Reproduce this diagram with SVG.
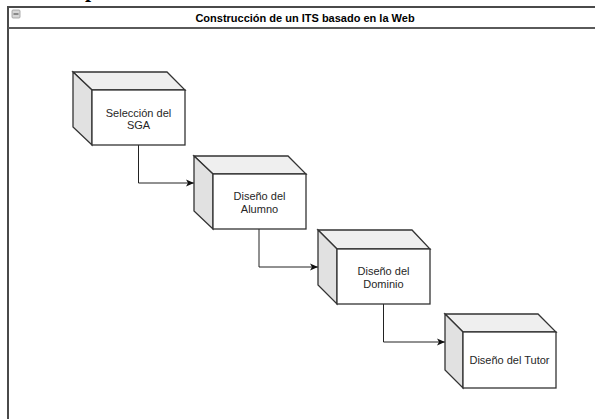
<svg xmlns="http://www.w3.org/2000/svg" width="595" height="419" viewBox="0 0 595 419">
<defs>
<style>
.face{fill:#ffffff;stroke:#333333;stroke-width:1.3}
.top{fill:#efefef;stroke:#333333;stroke-width:1.3}
.side{fill:#e1e1e1;stroke:#333333;stroke-width:1.3}
.lbl{font-family:"Liberation Sans",Arial,sans-serif;font-size:11px;fill:#262626;text-anchor:middle}
.conn{fill:none;stroke:#222222;stroke-width:1}
</style>
<marker id="arr" markerWidth="10" markerHeight="10" refX="9" refY="5" orient="auto" markerUnits="userSpaceOnUse">
<path d="M1,1.5 L9,5 L1,8.5 L3,5 Z" fill="#111111"/>
</marker>
</defs>
<rect x="0" y="0" width="595" height="419" fill="#ffffff"/>
<text x="91" y="-3" font-family="Liberation Serif,serif" font-weight="bold" font-size="22" text-anchor="middle" fill="#000">p</text>
<g id="container">
<rect x="8" y="7" width="600" height="430" fill="#ffffff" stroke="#4a4a4a" stroke-width="2"/>
<line x1="8" y1="28" x2="608" y2="28" stroke="#5a5a5a" stroke-width="2"/>
<rect x="12" y="10" width="8" height="8" rx="1" fill="#d6d6d6" stroke="#9a9a9a" stroke-width="0.8"/>
<line x1="13.5" y1="14" x2="18.5" y2="14" stroke="#555" stroke-width="1.2"/>
<text x="305" y="22" font-family="Liberation Sans,Arial,sans-serif" font-weight="bold" font-size="11" text-anchor="middle" fill="#000">Construcción de un ITS basado en la Web</text>
</g>
<g id="connectors">
<path class="conn" d="M138.5,145 V183 H194" marker-end="url(#arr)"/>
<path class="conn" d="M259,229 V267 H318" marker-end="url(#arr)"/>
<path class="conn" d="M383.5,304 V342 H445" marker-end="url(#arr)"/>
</g>
<g id="n1">
<path class="top" d="M73,72 H167 L185,90 H92 Z"/>
<path class="side" d="M73,72 L92,90 V145 L73,127 Z"/>
<rect class="face" x="92" y="90" width="93" height="55"/>
<text class="lbl" x="138.5" y="116.5">Selección del</text>
<text class="lbl" x="138.5" y="128.5">SGA</text>
</g>
<g id="n2">
<path class="top" d="M194,156 H288 L306,174 H213 Z"/>
<path class="side" d="M194,156 L213,174 V229 L194,211 Z"/>
<rect class="face" x="213" y="174" width="93" height="55"/>
<text class="lbl" x="259.5" y="200">Diseño del</text>
<text class="lbl" x="259.5" y="213">Alumno</text>
</g>
<g id="n3">
<path class="top" d="M318,230 H412 L430,249 H337 Z"/>
<path class="side" d="M318,230 L337,249 V304 L318,285 Z"/>
<rect class="face" x="337" y="249" width="93" height="55"/>
<text class="lbl" x="383.5" y="275">Diseño del</text>
<text class="lbl" x="383.5" y="287.5">Dominio</text>
</g>
<g id="n4">
<path class="top" d="M445,314 H538 L556,332 H463 Z"/>
<path class="side" d="M445,314 L463,332 V388 L445,370 Z"/>
<rect class="face" x="463" y="332" width="93" height="56"/>
<text class="lbl" x="509.5" y="364">Diseño del Tutor</text>
</g>
</svg>
